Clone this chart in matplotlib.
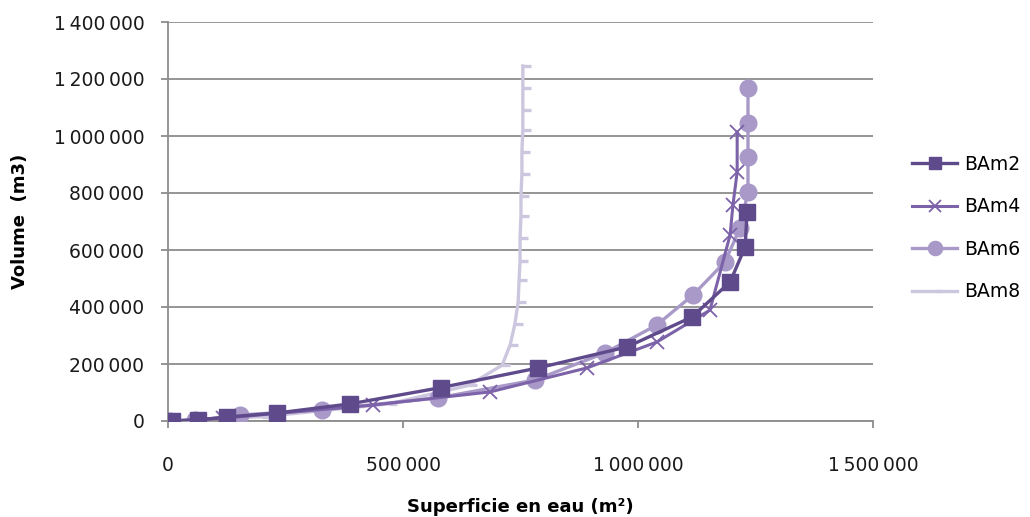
import numpy as np
import matplotlib.pyplot as plt
from matplotlib.ticker import FuncFormatter, MultipleLocator

# Superficie (m2) / Volume (m3) for each scenario
bam2_x = [8000, 64000, 125000, 232000, 387000, 580000, 787000, 977000, 1115000, 1196000, 1228000, 1232000]
bam2_y = [0, 3500, 14000, 28000, 60000, 117000, 186000, 260000, 365000, 488000, 611000, 733000]

bam4_x = [0, 117000, 436000, 685000, 891000, 1040000, 1153000, 1196000, 1202000, 1211000, 1211000]
bam4_y = [0, 10000, 56000, 102000, 186000, 277000, 389000, 653000, 758000, 874000, 1014000]

bam6_x = [4000, 57000, 153000, 328000, 574000, 781000, 930000, 1040000, 1117000, 1185000, 1217000,
          1234000, 1234000, 1234000, 1234000]
bam6_y = [0, 2000, 21000, 39000, 81000, 144000, 239000, 337000, 442000, 558000, 677000,
          804000, 926000, 1046000, 1168000]

bam8_x = [0, 200000, 470000, 640000, 711000, 728000, 738000, 745000, 747000, 749000, 749000,
          751000, 751000, 753000, 753000, 755000, 755000, 755000, 755000]
bam8_y = [0, 15000, 60000, 125000, 196000, 267000, 340000, 418000, 495000, 561000, 642000,
          719000, 789000, 867000, 944000, 1021000, 1091000, 1168000, 1245600]

c2 = '#5f4a8b'
c4 = '#7c62a8'
c6 = '#a899c8'
c8 = '#cdc6df'

plt.rcParams['font.family'] = 'DejaVu Sans'

fig = plt.figure(figsize=(10.3, 5.17), dpi=100)
ax = fig.add_axes([168 / 1030, 1 - 421 / 517, 705 / 1030, 399 / 517])

ax.plot(bam8_x, bam8_y, color=c8, lw=2.4, marker=1, markersize=6, markeredgewidth=2.4, label='BAm8', zorder=2)
ax.plot(bam6_x, bam6_y, color=c6, lw=2.4, marker='o', markersize=12, label='BAm6', zorder=3)
ax.plot(bam4_x, bam4_y, color=c4, lw=2.2, marker='x', markersize=10, markeredgewidth=1.3, label='BAm4', zorder=4)
ax.plot(bam2_x, bam2_y, color=c2, lw=2.4, marker='s', markersize=11, label='BAm2', zorder=5)

ax.set_xlim(0, 1500000)
ax.set_ylim(0, 1400000)
ax.xaxis.set_major_locator(MultipleLocator(500000))
ax.yaxis.set_major_locator(MultipleLocator(200000))
fmt = FuncFormatter(lambda v, p: '{:,.0f}'.format(v).replace(',', '\u2009'))
ax.xaxis.set_major_formatter(fmt)
ax.yaxis.set_major_formatter(fmt)

ax.grid(axis='y', color='#8c8c8c', lw=1.3)
ax.set_axisbelow(True)
for s in ['top', 'right']:
    ax.spines[s].set_visible(False)
for s in ['left', 'bottom']:
    ax.spines[s].set_color('#8c8c8c')
    ax.spines[s].set_linewidth(1.3)
ax.tick_params(axis='both', colors='#8c8c8c', labelcolor='#1a1a1a', labelsize=13.5, length=5, width=1.3)
ax.tick_params(axis='y', pad=12)
ax.tick_params(axis='x', pad=20)

ax.set_ylabel('Volume  (m3)', fontsize=13, fontweight='bold', labelpad=18)
ax.set_xlabel('Superficie en eau (m²)', fontsize=13, fontweight='bold', labelpad=17)

h, l = ax.get_legend_handles_labels()
order = [3, 2, 1, 0]
fig.legend([h[i] for i in order], [l[i] for i in order], loc='center left',
           bbox_to_anchor=(912 / 1030, 1 - 228 / 517), frameon=False, fontsize=13.5,
           handlelength=2.4, labelspacing=1.25, borderpad=0, borderaxespad=0, handletextpad=0.4,
           markerscale=0.85)

fig.savefig('out.png', dpi=100)
